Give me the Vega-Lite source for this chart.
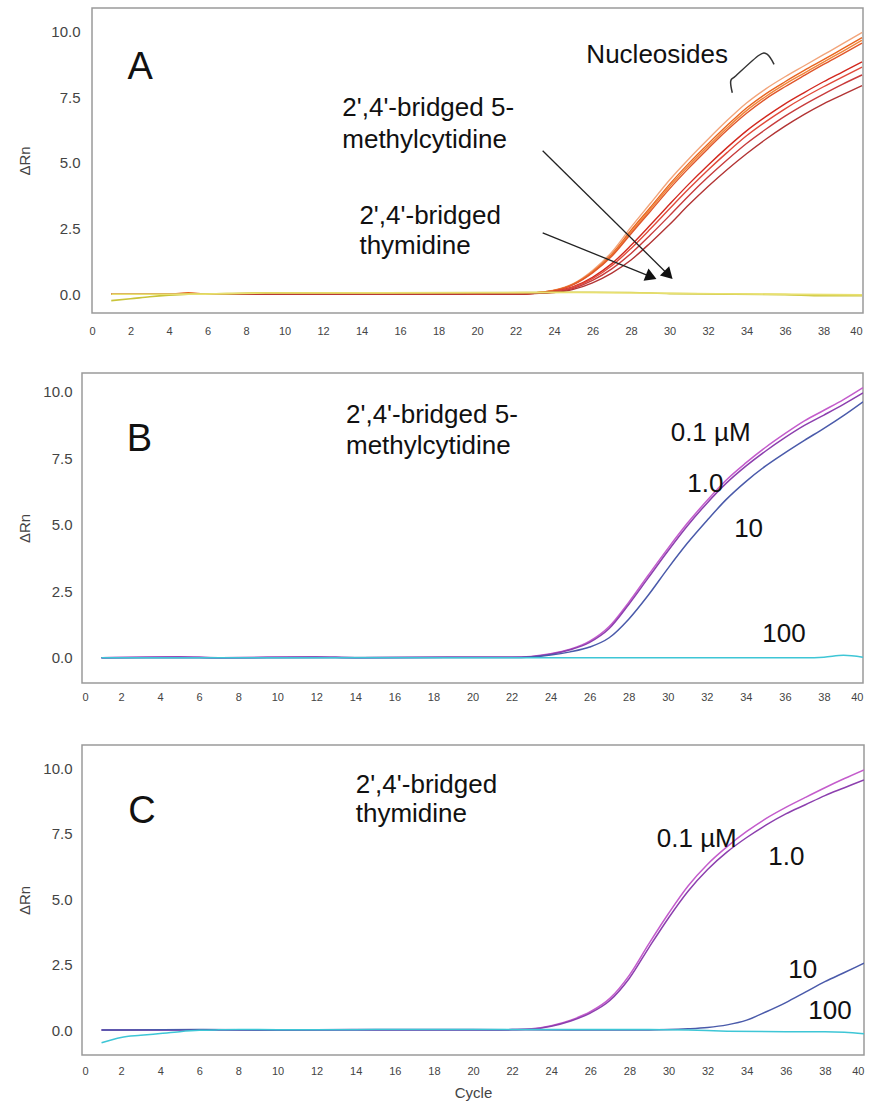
{
  "$schema": "https://vega.github.io/schema/vega-lite/v6.json",
  "background": "white",
  "padding": {"left": 17, "top": 7, "right": 2, "bottom": 0},
  "spacing": 36,
  "columns": 1,
  "resolve": {"scale": {"color": "independent"}},
  "config": {
    "view": {"stroke": "#9a9a9a", "strokeWidth": 1.5},
    "axis": {"grid": false, "ticks": false, "domain": false, "labelFont": "Liberation Sans", "labelColor": "#444", "titleFont": "Liberation Sans", "titleFontWeight": "normal", "titleColor": "#444", "titleFontSize": 15},
    "text": {"font": "Liberation Sans", "color": "#111"}
  },
  "datasets": {
    "a": [
      {"s":"c1","x":1,"y":0},{"s":"c1","x":5,"y":0},{"s":"c1","x":10,"y":0},{"s":"c1","x":15,"y":0},{"s":"c1","x":20,"y":0},{"s":"c1","x":22,"y":0},
      {"s":"c1","x":23,"y":0.05},{"s":"c1","x":24,"y":0.15},{"s":"c1","x":25,"y":0.4},{"s":"c1","x":26,"y":0.9},{"s":"c1","x":27,"y":1.6},{"s":"c1","x":28,"y":2.55},{"s":"c1","x":29,"y":3.45},{"s":"c1","x":30,"y":4.35},{"s":"c1","x":31,"y":5.15},{"s":"c1","x":32,"y":5.9},{"s":"c1","x":33,"y":6.62},{"s":"c1","x":34,"y":7.28},{"s":"c1","x":35,"y":7.82},{"s":"c1","x":36,"y":8.28},{"s":"c1","x":37,"y":8.7},{"s":"c1","x":38,"y":9.12},{"s":"c1","x":39,"y":9.54},{"s":"c1","x":40,"y":9.97},
      {"s":"c2","x":1,"y":0},{"s":"c2","x":4,"y":0},{"s":"c2","x":5,"y":0.05},{"s":"c2","x":6,"y":0},{"s":"c2","x":10,"y":0},{"s":"c2","x":15,"y":0},{"s":"c2","x":20,"y":0},{"s":"c2","x":22,"y":0},
      {"s":"c2","x":23,"y":0.05},{"s":"c2","x":24,"y":0.14},{"s":"c2","x":25,"y":0.38},{"s":"c2","x":26,"y":0.85},{"s":"c2","x":27,"y":1.52},{"s":"c2","x":28,"y":2.43},{"s":"c2","x":29,"y":3.3},{"s":"c2","x":30,"y":4.18},{"s":"c2","x":31,"y":4.98},{"s":"c2","x":32,"y":5.72},{"s":"c2","x":33,"y":6.43},{"s":"c2","x":34,"y":7.09},{"s":"c2","x":35,"y":7.63},{"s":"c2","x":36,"y":8.09},{"s":"c2","x":37,"y":8.52},{"s":"c2","x":38,"y":8.93},{"s":"c2","x":39,"y":9.35},{"s":"c2","x":40,"y":9.77},
      {"s":"c3","x":1,"y":0},{"s":"c3","x":5,"y":0},{"s":"c3","x":10,"y":0},{"s":"c3","x":15,"y":0},{"s":"c3","x":20,"y":0},{"s":"c3","x":22,"y":0},
      {"s":"c3","x":23,"y":0.05},{"s":"c3","x":24,"y":0.14},{"s":"c3","x":25,"y":0.37},{"s":"c3","x":26,"y":0.83},{"s":"c3","x":27,"y":1.48},{"s":"c3","x":28,"y":2.36},{"s":"c3","x":29,"y":3.23},{"s":"c3","x":30,"y":4.1},{"s":"c3","x":31,"y":4.89},{"s":"c3","x":32,"y":5.63},{"s":"c3","x":33,"y":6.34},{"s":"c3","x":34,"y":6.99},{"s":"c3","x":35,"y":7.53},{"s":"c3","x":36,"y":8.0},{"s":"c3","x":37,"y":8.42},{"s":"c3","x":38,"y":8.84},{"s":"c3","x":39,"y":9.25},{"s":"c3","x":40,"y":9.67},
      {"s":"c4","x":1,"y":0},{"s":"c4","x":5,"y":0},{"s":"c4","x":10,"y":0},{"s":"c4","x":15,"y":0},{"s":"c4","x":20,"y":0},{"s":"c4","x":22,"y":0},
      {"s":"c4","x":23,"y":0.04},{"s":"c4","x":24,"y":0.13},{"s":"c4","x":25,"y":0.36},{"s":"c4","x":26,"y":0.81},{"s":"c4","x":27,"y":1.44},{"s":"c4","x":28,"y":2.3},{"s":"c4","x":29,"y":3.15},{"s":"c4","x":30,"y":4.01},{"s":"c4","x":31,"y":4.8},{"s":"c4","x":32,"y":5.54},{"s":"c4","x":33,"y":6.25},{"s":"c4","x":34,"y":6.89},{"s":"c4","x":35,"y":7.44},{"s":"c4","x":36,"y":7.9},{"s":"c4","x":37,"y":8.33},{"s":"c4","x":38,"y":8.75},{"s":"c4","x":39,"y":9.15},{"s":"c4","x":40,"y":9.56},
      {"s":"c5","x":1,"y":0},{"s":"c5","x":5,"y":0},{"s":"c5","x":10,"y":0},{"s":"c5","x":15,"y":0},{"s":"c5","x":20,"y":0},{"s":"c5","x":22,"y":0},
      {"s":"c5","x":23,"y":0.03},{"s":"c5","x":24,"y":0.1},{"s":"c5","x":25,"y":0.28},{"s":"c5","x":26,"y":0.64},{"s":"c5","x":27,"y":1.16},{"s":"c5","x":28,"y":1.86},{"s":"c5","x":29,"y":2.63},{"s":"c5","x":30,"y":3.42},{"s":"c5","x":31,"y":4.19},{"s":"c5","x":32,"y":4.91},{"s":"c5","x":33,"y":5.59},{"s":"c5","x":34,"y":6.22},{"s":"c5","x":35,"y":6.76},{"s":"c5","x":36,"y":7.25},{"s":"c5","x":37,"y":7.68},{"s":"c5","x":38,"y":8.09},{"s":"c5","x":39,"y":8.47},{"s":"c5","x":40,"y":8.85},
      {"s":"c6","x":1,"y":0},{"s":"c6","x":5,"y":0},{"s":"c6","x":10,"y":0},{"s":"c6","x":15,"y":0},{"s":"c6","x":20,"y":0},{"s":"c6","x":22,"y":0},
      {"s":"c6","x":23,"y":0.03},{"s":"c6","x":24,"y":0.09},{"s":"c6","x":25,"y":0.26},{"s":"c6","x":26,"y":0.59},{"s":"c6","x":27,"y":1.08},{"s":"c6","x":28,"y":1.74},{"s":"c6","x":29,"y":2.48},{"s":"c6","x":30,"y":3.25},{"s":"c6","x":31,"y":4.01},{"s":"c6","x":32,"y":4.73},{"s":"c6","x":33,"y":5.4},{"s":"c6","x":34,"y":6.03},{"s":"c6","x":35,"y":6.57},{"s":"c6","x":36,"y":7.06},{"s":"c6","x":37,"y":7.5},{"s":"c6","x":38,"y":7.9},{"s":"c6","x":39,"y":8.28},{"s":"c6","x":40,"y":8.65},
      {"s":"c7","x":1,"y":0},{"s":"c7","x":5,"y":0},{"s":"c7","x":10,"y":0},{"s":"c7","x":15,"y":0},{"s":"c7","x":20,"y":0},{"s":"c7","x":22,"y":0},
      {"s":"c7","x":23,"y":0.03},{"s":"c7","x":24,"y":0.08},{"s":"c7","x":25,"y":0.22},{"s":"c7","x":26,"y":0.52},{"s":"c7","x":27,"y":0.96},{"s":"c7","x":28,"y":1.55},{"s":"c7","x":29,"y":2.25},{"s":"c7","x":30,"y":2.99},{"s":"c7","x":31,"y":3.75},{"s":"c7","x":32,"y":4.46},{"s":"c7","x":33,"y":5.12},{"s":"c7","x":34,"y":5.74},{"s":"c7","x":35,"y":6.28},{"s":"c7","x":36,"y":6.78},{"s":"c7","x":37,"y":7.22},{"s":"c7","x":38,"y":7.62},{"s":"c7","x":39,"y":8.0},{"s":"c7","x":40,"y":8.35},
      {"s":"c8","x":1,"y":0},{"s":"c8","x":5,"y":0},{"s":"c8","x":10,"y":0},{"s":"c8","x":15,"y":0},{"s":"c8","x":19,"y":0},{"s":"c8","x":20,"y":0.02},{"s":"c8","x":21,"y":0},{"s":"c8","x":22,"y":0},
      {"s":"c8","x":23,"y":0.02},{"s":"c8","x":24,"y":0.06},{"s":"c8","x":25,"y":0.18},{"s":"c8","x":26,"y":0.43},{"s":"c8","x":27,"y":0.8},{"s":"c8","x":28,"y":1.3},{"s":"c8","x":29,"y":1.95},{"s":"c8","x":30,"y":2.65},{"s":"c8","x":31,"y":3.4},{"s":"c8","x":32,"y":4.1},{"s":"c8","x":33,"y":4.75},{"s":"c8","x":34,"y":5.35},{"s":"c8","x":35,"y":5.9},{"s":"c8","x":36,"y":6.4},{"s":"c8","x":37,"y":6.85},{"s":"c8","x":38,"y":7.25},{"s":"c8","x":39,"y":7.6},{"s":"c8","x":40,"y":7.94}
    ],
    "ay": [
      {"s":"y1","x":1,"y":-0.25},{"s":"y1","x":2,"y":-0.18},{"s":"y1","x":3,"y":-0.1},{"s":"y1","x":4,"y":-0.04},{"s":"y1","x":5,"y":0},{"s":"y1","x":7,"y":0.02},{"s":"y1","x":9,"y":0.05},{"s":"y1","x":15,"y":0.05},{"s":"y1","x":22,"y":0.06},{"s":"y1","x":26,"y":0.07},{"s":"y1","x":28,"y":0.06},{"s":"y1","x":30,"y":0.02},{"s":"y1","x":33,"y":0},{"s":"y1","x":36,"y":-0.02},{"s":"y1","x":38,"y":-0.06},{"s":"y1","x":40,"y":-0.06},
      {"s":"y2","x":1,"y":0},{"s":"y2","x":5,"y":0},{"s":"y2","x":9,"y":0.04},{"s":"y2","x":20,"y":0.05},{"s":"y2","x":25,"y":0.06},{"s":"y2","x":30,"y":0.03},{"s":"y2","x":35,"y":0},{"s":"y2","x":40,"y":-0.03}
    ],
    "b": [
      {"s":"0.1","x":1,"y":0},{"s":"0.1","x":5,"y":0.04},{"s":"0.1","x":7,"y":0},{"s":"0.1","x":12,"y":0.03},{"s":"0.1","x":14,"y":0},{"s":"0.1","x":19,"y":0.02},{"s":"0.1","x":22,"y":0.02},
      {"s":"0.1","x":23,"y":0.05},{"s":"0.1","x":24,"y":0.15},{"s":"0.1","x":25,"y":0.32},{"s":"0.1","x":26,"y":0.62},{"s":"0.1","x":27,"y":1.17},{"s":"0.1","x":28,"y":2.08},{"s":"0.1","x":29,"y":3.1},{"s":"0.1","x":30,"y":4.1},{"s":"0.1","x":31,"y":5.05},{"s":"0.1","x":32,"y":5.9},{"s":"0.1","x":33,"y":6.68},{"s":"0.1","x":34,"y":7.32},{"s":"0.1","x":35,"y":7.9},{"s":"0.1","x":36,"y":8.42},{"s":"0.1","x":37,"y":8.9},{"s":"0.1","x":38,"y":9.3},{"s":"0.1","x":39,"y":9.7},{"s":"0.1","x":40,"y":10.15},
      {"s":"1.0","x":1,"y":0},{"s":"1.0","x":5,"y":0.03},{"s":"1.0","x":7,"y":0},{"s":"1.0","x":12,"y":0.03},{"s":"1.0","x":14,"y":0},{"s":"1.0","x":19,"y":0.02},{"s":"1.0","x":22,"y":0.02},
      {"s":"1.0","x":23,"y":0.04},{"s":"1.0","x":24,"y":0.13},{"s":"1.0","x":25,"y":0.3},{"s":"1.0","x":26,"y":0.58},{"s":"1.0","x":27,"y":1.1},{"s":"1.0","x":28,"y":2.0},{"s":"1.0","x":29,"y":3.0},{"s":"1.0","x":30,"y":4.0},{"s":"1.0","x":31,"y":4.95},{"s":"1.0","x":32,"y":5.8},{"s":"1.0","x":33,"y":6.56},{"s":"1.0","x":34,"y":7.2},{"s":"1.0","x":35,"y":7.76},{"s":"1.0","x":36,"y":8.27},{"s":"1.0","x":37,"y":8.73},{"s":"1.0","x":38,"y":9.12},{"s":"1.0","x":39,"y":9.52},{"s":"1.0","x":40,"y":9.95},
      {"s":"10","x":1,"y":0},{"s":"10","x":10,"y":0},{"s":"10","x":20,"y":0.01},{"s":"10","x":22,"y":0.01},
      {"s":"10","x":23,"y":0.03},{"s":"10","x":24,"y":0.1},{"s":"10","x":25,"y":0.22},{"s":"10","x":26,"y":0.4},{"s":"10","x":27,"y":0.75},{"s":"10","x":28,"y":1.45},{"s":"10","x":29,"y":2.35},{"s":"10","x":30,"y":3.35},{"s":"10","x":31,"y":4.3},{"s":"10","x":32,"y":5.15},{"s":"10","x":33,"y":5.95},{"s":"10","x":34,"y":6.62},{"s":"10","x":35,"y":7.2},{"s":"10","x":36,"y":7.7},{"s":"10","x":37,"y":8.17},{"s":"10","x":38,"y":8.62},{"s":"10","x":39,"y":9.1},{"s":"10","x":40,"y":9.62},
      {"s":"100","x":1,"y":0},{"s":"100","x":10,"y":0},{"s":"100","x":20,"y":0},{"s":"100","x":30,"y":0},{"s":"100","x":37,"y":0},{"s":"100","x":38,"y":0.02},{"s":"100","x":39,"y":0.09},{"s":"100","x":40,"y":0.02}
    ],
    "c": [
      {"s":"0.1","x":1,"y":0},{"s":"0.1","x":6,"y":0},{"s":"0.1","x":10,"y":0},{"s":"0.1","x":14,"y":0},{"s":"0.1","x":20,"y":0},{"s":"0.1","x":22,"y":0.02},
      {"s":"0.1","x":23,"y":0.05},{"s":"0.1","x":24,"y":0.17},{"s":"0.1","x":25,"y":0.38},{"s":"0.1","x":26,"y":0.7},{"s":"0.1","x":27,"y":1.21},{"s":"0.1","x":28,"y":2.1},{"s":"0.1","x":29,"y":3.3},{"s":"0.1","x":30,"y":4.45},{"s":"0.1","x":31,"y":5.5},{"s":"0.1","x":32,"y":6.33},{"s":"0.1","x":33,"y":7.0},{"s":"0.1","x":34,"y":7.58},{"s":"0.1","x":35,"y":8.08},{"s":"0.1","x":36,"y":8.5},{"s":"0.1","x":37,"y":8.88},{"s":"0.1","x":38,"y":9.25},{"s":"0.1","x":39,"y":9.6},{"s":"0.1","x":40,"y":9.93},
      {"s":"1.0","x":1,"y":0},{"s":"1.0","x":6,"y":0},{"s":"1.0","x":10,"y":0},{"s":"1.0","x":14,"y":0},{"s":"1.0","x":20,"y":0},{"s":"1.0","x":22,"y":0.02},
      {"s":"1.0","x":23,"y":0.04},{"s":"1.0","x":24,"y":0.15},{"s":"1.0","x":25,"y":0.35},{"s":"1.0","x":26,"y":0.65},{"s":"1.0","x":27,"y":1.13},{"s":"1.0","x":28,"y":1.98},{"s":"1.0","x":29,"y":3.15},{"s":"1.0","x":30,"y":4.28},{"s":"1.0","x":31,"y":5.3},{"s":"1.0","x":32,"y":6.13},{"s":"1.0","x":33,"y":6.8},{"s":"1.0","x":34,"y":7.35},{"s":"1.0","x":35,"y":7.83},{"s":"1.0","x":36,"y":8.25},{"s":"1.0","x":37,"y":8.6},{"s":"1.0","x":38,"y":8.95},{"s":"1.0","x":39,"y":9.25},{"s":"1.0","x":40,"y":9.55},
      {"s":"10","x":1,"y":0},{"s":"10","x":6,"y":0.02},{"s":"10","x":10,"y":0},{"s":"10","x":14,"y":0.02},{"s":"10","x":20,"y":0.02},{"s":"10","x":25,"y":0},{"s":"10","x":28,"y":0},{"s":"10","x":30,"y":0.02},
      {"s":"10","x":31,"y":0.05},{"s":"10","x":32,"y":0.1},{"s":"10","x":33,"y":0.2},{"s":"10","x":34,"y":0.38},{"s":"10","x":35,"y":0.7},{"s":"10","x":36,"y":1.05},{"s":"10","x":37,"y":1.45},{"s":"10","x":38,"y":1.85},{"s":"10","x":39,"y":2.2},{"s":"10","x":40,"y":2.55},
      {"s":"100","x":1,"y":-0.48},{"s":"100","x":2,"y":-0.28},{"s":"100","x":3,"y":-0.2},{"s":"100","x":4,"y":-0.13},{"s":"100","x":5,"y":-0.06},{"s":"100","x":6,"y":-0.01},{"s":"100","x":7,"y":0.01},{"s":"100","x":8,"y":0.02},{"s":"100","x":12,"y":0.01},{"s":"100","x":16,"y":0.02},{"s":"100","x":20,"y":0.02},{"s":"100","x":25,"y":0.02},{"s":"100","x":29,"y":0.02},{"s":"100","x":31,"y":0},{"s":"100","x":33,"y":-0.04},{"s":"100","x":36,"y":-0.06},{"s":"100","x":38,"y":-0.06},{"s":"100","x":39,"y":-0.08},{"s":"100","x":40,"y":-0.14}
    ],
    "frameA": [{"x":0,"x2":40.05,"y":-0.72,"y2":10.9}],
    "aLetter": [{"x":2.5,"y":8.19,"t":"A"}],
    "bLetter": [{"x":2.94,"y":7.77,"t":"B"}],
    "cLetter": [{"x":3.07,"y":7.9,"t":"C"}],
    "aText": [
      {"x":13.0,"y":6.78,"t":"2',4'-bridged 5-"},
      {"x":13.0,"y":5.57,"t":"methylcytidine"},
      {"x":13.89,"y":2.66,"t":"2',4'-bridged"},
      {"x":13.89,"y":1.51,"t":"thymidine"},
      {"x":25.68,"y":8.81,"t":"Nucleosides"}
    ],
    "bText": [
      {"x":13.52,"y":8.81,"t":"2',4'-bridged 5-"},
      {"x":13.52,"y":7.65,"t":"methylcytidine"},
      {"x":30.15,"y":8.16,"t":"0.1 µM"},
      {"x":31.0,"y":6.24,"t":"1.0"},
      {"x":33.4,"y":4.55,"t":"10"},
      {"x":34.84,"y":0.6,"t":"100"}
    ],
    "cText": [
      {"x":14.0,"y":9.03,"t":"2',4'-bridged"},
      {"x":14.0,"y":7.95,"t":"thymidine"},
      {"x":29.4,"y":7.0,"t":"0.1 µM"},
      {"x":35.1,"y":6.3,"t":"1.0"},
      {"x":36.13,"y":2.0,"t":"10"},
      {"x":37.15,"y":0.41,"t":"100"}
    ],
    "arrows": [
      {"x":23.41,"y":5.46,"x2":29.95,"y2":0.73},
      {"x":23.41,"y":2.33,"x2":29.05,"y2":0.66}
    ],
    "head1": [{"x":29.95,"y":0.73}],
    "head2": [{"x":29.05,"y":0.66}],
    "bracket": [
      {"o":1,"x":33.26,"y":7.67},
      {"o":2,"x":33.18,"y":8.12},
      {"o":3,"x":33.45,"y":8.32},
      {"o":4,"x":34.65,"y":9.1},
      {"o":5,"x":35.08,"y":9.13},
      {"o":6,"x":35.43,"y":8.75}
    ]
  },
  "concat": [
    {
      "width": 781,
      "height": 305,
      "view": {"stroke": null},
      "encoding": {
        "x": {"field": "x", "type": "quantitative", "scale": {"domain": [-0.52, 40.05], "nice": false, "zero": false},
              "axis": {"title": null, "values": [0,2,4,6,8,10,12,14,16,18,20,22,24,26,28,30,32,34,36,38,40], "labelFontSize": 11, "labelPadding": 12}},
        "y": {"field": "y", "type": "quantitative", "scale": {"domain": [-0.72, 10.9], "nice": false, "zero": false},
              "axis": {"title": "ΔRn", "values": [0, 2.5, 5, 7.5, 10], "format": ".1f", "labelFontSize": 15, "labelPadding": 12, "titlePadding": 18, "offset": -10}}
      },
      "layer": [
        {
          "data": {"name": "frameA"},
          "mark": {"type": "rect", "fill": "white", "fillOpacity": 0, "stroke": "#9a9a9a", "strokeWidth": 1.5},
          "encoding": {"x2": {"field": "x2"}, "y2": {"field": "y2"}}
        },
        {
          "data": {"name": "a"},
          "mark": {"type": "line", "strokeWidth": 1.4, "interpolate": "monotone", "clip": true},
          "encoding": {"color": {"field": "s", "type": "nominal", "legend": null,
            "scale": {"domain": ["c1","c2","c3","c4","c5","c6","c7","c8","y1","y2"], "range": ["#f2a47a","#e8641e","#f08438","#e0562a","#d2281e","#e04a3a","#c83c3c","#b23434","#c9c43a","#e8e070"]}}}
        },
        {
          "data": {"name": "ay"},
          "mark": {"type": "line", "strokeWidth": 1.6, "interpolate": "monotone", "clip": true},
          "encoding": {"color": {"field": "s", "type": "nominal", "legend": null,
            "scale": {"domain": ["c1","c2","c3","c4","c5","c6","c7","c8","y1","y2"], "range": ["#f2a47a","#e8641e","#f08438","#e0562a","#d2281e","#e04a3a","#c83c3c","#b23434","#c9c43a","#e8e070"]}}}
        },
        {
          "data": {"name": "arrows"},
          "mark": {"type": "rule", "color": "#222", "strokeWidth": 1.3},
          "encoding": {"x2": {"field": "x2"}, "y2": {"field": "y2"}}
        },
        {
          "data": {"name": "head1"},
          "mark": {"type": "point", "shape": "triangle-right", "filled": true, "color": "#111", "size": 170, "angle": 45, "opacity": 1},
          "encoding": {}
        },
        {
          "data": {"name": "head2"},
          "mark": {"type": "point", "shape": "triangle-right", "filled": true, "color": "#111", "size": 170, "angle": 22, "opacity": 1},
          "encoding": {}
        },
        {
          "data": {"name": "bracket"},
          "mark": {"type": "line", "color": "#333", "strokeWidth": 1.5, "interpolate": "cardinal"},
          "encoding": {"order": {"field": "o", "type": "quantitative"}}
        },
        {
          "data": {"name": "aLetter"},
          "mark": {"type": "text", "fontSize": 38, "align": "center", "baseline": "alphabetic"},
          "encoding": {"text": {"field": "t"}}
        },
        {
          "data": {"name": "aText"},
          "mark": {"type": "text", "fontSize": 26, "align": "left", "baseline": "alphabetic"},
          "encoding": {"text": {"field": "t"}}
        }
      ]
    },
    {
      "width": 781,
      "height": 310,
      "encoding": {
        "x": {"field": "x", "type": "quantitative", "scale": {"domain": [0, 40], "nice": false, "zero": false},
              "axis": {"title": null, "values": [0,2,4,6,8,10,12,14,16,18,20,22,24,26,28,30,32,34,36,38,40], "labelFontSize": 11, "labelPadding": 8, "minExtent": 24}},
        "y": {"field": "y", "type": "quantitative", "scale": {"domain": [-0.95, 10.7], "nice": false, "zero": false},
              "axis": {"title": "ΔRn", "values": [0, 2.5, 5, 7.5, 10], "format": ".1f", "labelFontSize": 15, "labelPadding": 10, "titlePadding": 10}}
      },
      "layer": [
        {
          "data": {"name": "b"},
          "mark": {"type": "line", "strokeWidth": 1.5, "interpolate": "monotone", "clip": true},
          "encoding": {"color": {"field": "s", "type": "nominal", "legend": null,
            "scale": {"domain": ["0.1","1.0","10","100"], "range": ["#c45ccc","#8c3fae","#4a5aaa","#3ec6d6"]}}}
        },
        {
          "data": {"name": "bLetter"},
          "mark": {"type": "text", "fontSize": 38, "align": "center", "baseline": "alphabetic"},
          "encoding": {"text": {"field": "t"}}
        },
        {
          "data": {"name": "bText"},
          "mark": {"type": "text", "fontSize": 26, "align": "left", "baseline": "alphabetic"},
          "encoding": {"text": {"field": "t"}}
        }
      ]
    },
    {
      "width": 782,
      "height": 310,
      "encoding": {
        "x": {"field": "x", "type": "quantitative", "scale": {"domain": [0, 40], "nice": false, "zero": false},
              "axis": {"title": "Cycle", "values": [0,2,4,6,8,10,12,14,16,18,20,22,24,26,28,30,32,34,36,38,40], "labelFontSize": 11, "labelPadding": 10, "titlePadding": 9}},
        "y": {"field": "y", "type": "quantitative", "scale": {"domain": [-0.95, 10.88], "nice": false, "zero": false},
              "axis": {"title": "ΔRn", "values": [0, 2.5, 5, 7.5, 10], "format": ".1f", "labelFontSize": 15, "labelPadding": 10, "titlePadding": 10}}
      },
      "layer": [
        {
          "data": {"name": "c"},
          "mark": {"type": "line", "strokeWidth": 1.5, "interpolate": "monotone", "clip": true},
          "encoding": {"color": {"field": "s", "type": "nominal", "legend": null,
            "scale": {"domain": ["0.1","1.0","10","100"], "range": ["#c45ccc","#8c3fae","#4a5aaa","#3ec6d6"]}}}
        },
        {
          "data": {"name": "cLetter"},
          "mark": {"type": "text", "fontSize": 38, "align": "center", "baseline": "alphabetic"},
          "encoding": {"text": {"field": "t"}}
        },
        {
          "data": {"name": "cText"},
          "mark": {"type": "text", "fontSize": 26, "align": "left", "baseline": "alphabetic"},
          "encoding": {"text": {"field": "t"}}
        }
      ]
    }
  ]
}
